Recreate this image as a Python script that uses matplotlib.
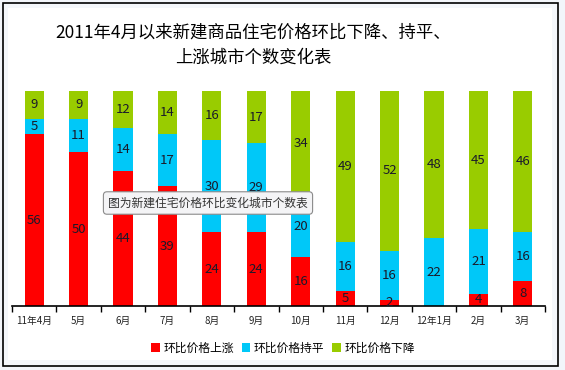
import matplotlib
matplotlib.use("Agg")
import matplotlib.pyplot as plt
from matplotlib.patches import Rectangle
import numpy as np

plt.rcParams['font.family'] = ['Noto Sans CJK SC', 'DejaVu Sans']

categories = ['11年4月', '5月', '6月', '7月', '8月', '9月', '10月', '11月', '12月', '12年1月', '2月', '3月']
rise = [56, 50, 44, 39, 24, 24, 16, 5, 2, 0, 4, 8]
flat = [5, 11, 14, 17, 30, 29, 20, 16, 16, 22, 21, 16]
fall = [9, 9, 12, 14, 16, 17, 34, 49, 52, 48, 45, 46]
series_names = ['环比价格上涨', '环比价格持平', '环比价格下降']
colors = ['#ff0000', '#00c8f8', '#99cc00']
title = '2011年4月以来新建商品住宅价格环比下降、持平、\n上涨城市个数变化表'
tooltip = '图为新建住宅价格环比变化城市个数表'

W, H = 565, 370
fig = plt.figure(figsize=(W / 100, H / 100), dpi=100)
fig.patch.set_facecolor('#f2f5fa')

# frame
fig.add_artist(Rectangle((3 / W, 1 - 366 / H), 555 / W, 363 / H, transform=fig.transFigure,
                         facecolor='#f4f7fb', edgecolor='black', lw=1.2, zorder=0))
fig.add_artist(Rectangle((8 / W, 1 - 360 / H), 544 / W, 352 / H, transform=fig.transFigure,
                         facecolor='white', edgecolor='none', zorder=0))

ax = fig.add_axes([12 / W, 1 - 306 / H, 533 / W, 215 / H])
ax.set_facecolor('none')
x = np.arange(len(categories))
bw = 0.43
data = [rise, flat, fall]
bottom = np.zeros(len(categories))
for vals, c, name in zip(data, colors, series_names):
    vals = np.array(vals, dtype=float)
    ax.bar(x, vals, bw, bottom=bottom, color=c, label=name, zorder=2)
    for xi, b, v in zip(x, bottom, vals):
        if v > 0:
            ax.text(xi, b + v / 2, f'{int(v)}', ha='center', va='center', fontsize=9.5,
                    color='#1a1a2a', zorder=3)
    bottom += vals

ax.set_xlim(-0.5, len(categories) - 0.5)
ax.set_ylim(0, 70)
for s in ['top', 'right', 'left']:
    ax.spines[s].set_visible(False)
ax.spines['bottom'].set_color('black')
ax.spines['bottom'].set_linewidth(1.2)
ax.set_yticks([])
ax.set_xticks(x)
ax.set_xticklabels(categories, fontsize=7, color='#222222')
ax.tick_params(axis='x', which='major', length=0, pad=7)
ax.set_xticks(np.arange(len(categories) + 1) - 0.5, minor=True)
ax.tick_params(axis='x', which='minor', length=4, width=1, color='black', direction='out')

fig.text(253 / W, 1 - 45 / H, title, ha='center', va='center', fontsize=12.5,
         linespacing=1.5, color='black', multialignment='center')

leg = fig.legend(loc='center', bbox_to_anchor=(283 / W, 1 - 348 / H), ncol=3, frameon=False,
                 fontsize=8.5, handlelength=0.7, handleheight=0.7, handletextpad=0.3,
                 columnspacing=0.7)

# tooltip box
fig.text(208 / W, 1 - 203 / H, tooltip, ha='center', va='center', fontsize=8.5, color='#333333',
         zorder=10,
         bbox=dict(boxstyle='round,pad=0.4,rounding_size=0.3', facecolor='#f4f4f6',
                   edgecolor='#8a8a8a', lw=0.8))

fig.savefig('out.png', dpi=100, facecolor=fig.get_facecolor())
